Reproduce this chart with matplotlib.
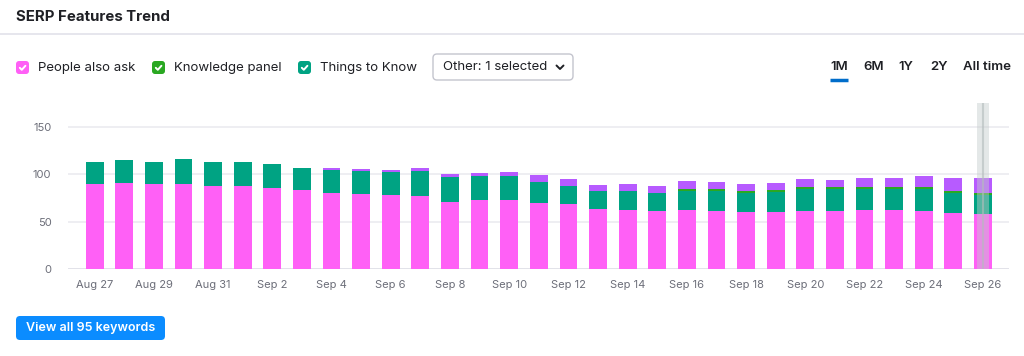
import matplotlib
matplotlib.use("Agg")
import matplotlib.pyplot as plt
from matplotlib.patches import FancyBboxPatch
import numpy as np
import pandas as pd

plt.rcParams['font.family'] = ['Inter', 'DejaVu Sans']

# days shown on the x axis
days = [f"{d:%b} {d.day}" for d in pd.date_range("2023-08-27", "2023-09-26")]

# stacked series (keyword counts), bottom to top
people_also_ask = [90, 91, 90, 90, 87, 87, 85, 83, 80, 79, 78, 77, 71, 73, 73, 70,
                   69, 63, 62, 61, 62, 61, 60, 60, 61, 61, 62, 62, 61, 59, 58]
things_to_know = [23, 24, 23, 26, 26, 26, 26, 24, 24, 24, 24, 26, 26, 25, 25, 22,
                  19, 19, 20, 19, 20, 21, 20, 21, 23, 23, 22, 22, 23, 21, 20]
knowledge_panel = [0, 0, 0, 0, 0, 0, 0, 0, 0, 0, 0, 0, 0, 0, 0, 0,
                   0, 0, 0, 0, 2, 2, 2, 2, 2, 2, 2, 2, 2, 2, 2]
other = [0, 0, 0, 0, 0, 0, 0, 0, 3, 2, 2, 3, 3, 3, 4, 7,
         7, 7, 8, 8, 9, 8, 8, 8, 9, 8, 10, 10, 12, 14, 16]

y_ticks = [0, 50, 100, 150]
legend_labels = ["People also ask", "Knowledge panel", "Things to Know"]
ranges = ["1M", "6M", "1Y", "2Y", "All time"]

PINK = '#ff60f6'
GREEN = '#2aa822'
TEAL = '#00a383'
PURPLE = '#b75bff'
GRAY_TXT = '#6c6e79'
DARK = '#1f2025'

W, H = 1024, 356
fig = plt.figure(figsize=(W / 100, H / 100), dpi=100)

# ---- the bar chart ----
ax = fig.add_axes([68 / W, 87 / H, 941 / W, 166 / H])
x = np.arange(len(days))
pa = np.array(people_also_ask)
tk = np.array(things_to_know)
kp = np.array(knowledge_panel)
ot = np.array(other)
bw = 0.6
ax.bar(x, pa, bw, color=PINK, zorder=2)
ax.bar(x, tk, bw, bottom=pa, color=TEAL, zorder=2)
ax.bar(x, kp, bw, bottom=pa + tk, color=GREEN, zorder=2)
ax.bar(x, ot, bw, bottom=pa + tk + kp, color=PURPLE, zorder=2)

ax.set_xlim(-0.9, 30.88)
ax.set_ylim(0, 175)
ax.set_yticks(y_ticks)
ax.set_xticks(x[::2])
ax.set_xticklabels(days[::2])
for v in y_ticks:
    ax.axhline(v, color='#dddde5' if v == 0 else '#ebebf0', lw=1.2, zorder=1)
for s in ax.spines.values():
    s.set_visible(False)
ax.tick_params(length=0, colors=GRAY_TXT, labelsize=8)
ax.tick_params(axis='y', pad=12)
ax.tick_params(axis='x', pad=8)

# hover highlight on the last day
ax.axvspan(x[-1] - 0.19, x[-1] + 0.19, color='#c5cccc', alpha=0.45, lw=0, zorder=3)
ax.axvline(x[-1], color='#b3bcbc', lw=1.5, alpha=0.6, zorder=3)

# ---- header, legend and button, drawn in pixel coordinates ----
ov = fig.add_axes([0, 0, 1, 1], zorder=-1)
ov.set_xlim(0, W)
ov.set_ylim(H, 0)
ov.axis('off')

ov.text(16, 17, "SERP Features Trend", fontsize=10.8, fontweight='bold',
        color=DARK, va='center', ha='left')
ov.plot([0, W], [34, 34], color='#e2e1ea', lw=1.2)

def checkbox(x0, y0, color):
    ov.add_patch(FancyBboxPatch((x0 + 1.5, y0 + 1.5), 10, 10,
                                boxstyle="round,pad=1.5,rounding_size=3",
                                fc=color, ec='none'))
    ov.plot([x0 + 3.8, x0 + 5.8, x0 + 9.4], [y0 + 6.8, y0 + 8.8, y0 + 4.8],
            color='white', lw=1.4, solid_capstyle='round', solid_joinstyle='round')

legend_x = [16, 152, 298]
legend_colors = [PINK, GREEN, TEAL]
for lx, lc, lab in zip(legend_x, legend_colors, legend_labels):
    checkbox(lx, 61, lc)
    ov.text(lx + 22, 67.5, lab, fontsize=9.5, color=DARK, va='center', ha='left')

# dropdown
ov.add_patch(FancyBboxPatch((433, 54), 140, 26,
                            boxstyle="round,pad=0,rounding_size=4",
                            fc='white', ec='#c4c5ce', lw=1))
ov.text(443, 67.5, "Other: 1 selected", fontsize=9.5, color=DARK, va='center', ha='left')
ov.plot([556.5, 560, 563.5], [65.5, 69, 65.5], color=DARK, lw=1.4,
        solid_capstyle='round', solid_joinstyle='round')

# time range selector
range_x = [830, 863, 898, 930, 963]
for rx, lab in zip(range_x, ranges):
    ov.text(rx, 67.5, lab, fontsize=9.5, fontweight='semibold', color=DARK,
            va='center', ha='left')
ov.plot([830, 848], [80, 80], color='#006dca', lw=2.5, solid_capstyle='butt')

# button
ov.add_patch(FancyBboxPatch((16, 316), 149, 24,
                            boxstyle="round,pad=0,rounding_size=4",
                            fc='#0b8cff', ec='none'))
ov.text(90.5, 328.5, "View all 95 keywords", fontsize=9, fontweight='semibold',
        color='white', va='center', ha='center')

fig.savefig('out.png', dpi=100)
